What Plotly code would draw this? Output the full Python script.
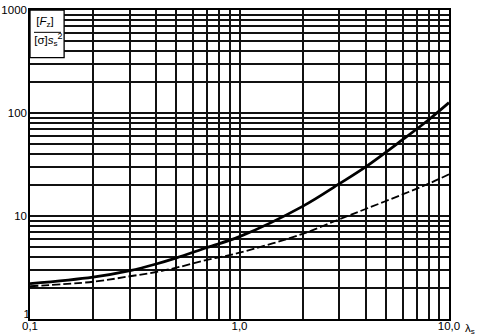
import plotly.graph_objects as go

lam = [0.1, 0.2, 0.3, 0.4, 0.5, 0.7, 1.0, 2.0, 3.0, 4.0, 6.0, 8.0, 10.0]
solid_vals = [2.2, 2.55, 2.95, 3.42, 3.92, 4.95, 6.3, 12.4, 20.6, 30.0, 55.0, 86.0, 126.0]
dashed_vals = [2.08, 2.3, 2.6, 2.86, 3.15, 3.75, 4.4, 6.7, 9.3, 11.7, 16.2, 20.6, 25.4]

x_major = {0.1: "0,1", 1.0: "1,0", 10.0: "10,0"}
y_major = {10: "10", 100: "100", 1000: "1000"}

# label box (upper-left corner) in data coordinates
box_x = [0.1, 0.1455, 0.1455, 0.1, 0.1]
box_y = [1000, 1000, 345, 345, 1000]
frac_x = [0.1045, 0.1406]
frac_y = [607, 607]
label_x = [0.1179, 0.1192, 0.139]
label_y = [764, 500, 547]
label_txt = ["[<i>F</i><sub>z</sub>]", "[σ]<i>s</i><sub>s</sub>", "2"]

def decade_ticks(start_exp, end_exp):
    vals = []
    for e in range(start_exp, end_exp):
        for m in range(1, 10):
            vals.append(round(m * 10 ** e, 6))
    vals.append(round(10 ** end_exp, 6))
    return vals

xt = decade_ticks(-1, 1)
yt = decade_ticks(0, 3)

font = "Liberation Sans"
fs = 11.5

fig = go.Figure()
fig.add_trace(go.Scatter(x=lam, y=solid_vals, mode="lines",
                         line=dict(color="black", width=2.8, shape="spline", smoothing=1.0)))
fig.add_trace(go.Scatter(x=lam, y=dashed_vals, mode="lines",
                         line=dict(color="black", width=1.8, dash="8px,3px", shape="spline", smoothing=1.0)))
fig.add_trace(go.Scatter(x=box_x, y=box_y, mode="lines", fill="toself", fillcolor="white",
                         line=dict(color="black", width=1.3)))
fig.add_trace(go.Scatter(x=frac_x, y=frac_y, mode="lines", line=dict(color="black", width=1)))
fig.add_trace(go.Scatter(x=label_x[:2], y=label_y[:2], mode="text", text=label_txt[:2],
                         textposition="middle center", textfont=dict(size=fs, family=font, color="black")))
fig.add_trace(go.Scatter(x=label_x[2:], y=label_y[2:], mode="text", text=label_txt[2:],
                         textposition="middle center", textfont=dict(size=9, family=font, color="black")))
# lowest y tick label "1", lifted slightly above the corner as in the reference
fig.add_trace(go.Scatter(x=[0.1], y=[1.1], mode="text", text=["1"], textposition="middle left",
                         cliponaxis=False, textfont=dict(size=fs, family=font, color="black")))

fig.update_layout(
    width=480, height=335,
    margin=dict(l=30, r=31, t=10, b=16, autoexpand=False),
    paper_bgcolor="white", plot_bgcolor="white",
    showlegend=False,
    font=dict(family=font, size=fs, color="black"),
)
fig.add_annotation(xref="paper", yref="paper", x=1.0334, y=-0.033, xanchor="left", yanchor="middle",
                   showarrow=False, text="λ<sub>s</sub>", font=dict(size=fs, family=font, color="black"))
fig.update_xaxes(type="log", range=[-1, 1], tickvals=xt,
                 ticktext=[x_major.get(v, "") for v in xt],
                 showgrid=True, gridcolor="#111", gridwidth=1.5,
                 showline=True, linecolor="black", linewidth=1.5, mirror=True,
                 ticks="", ticklen=0, ticklabelstandoff=-5, zeroline=False, tickangle=0,
                 automargin=False)
fig.update_yaxes(type="log", range=[0, 3], tickvals=yt,
                 ticktext=[y_major.get(int(v) if v >= 1 else v, "") for v in yt],
                 showgrid=True, gridcolor="#111", gridwidth=1.5,
                 showline=True, linecolor="black", linewidth=1.5, mirror=True,
                 ticks="", ticklen=0, ticklabelstandoff=-1, zeroline=False, automargin=False)

fig.write_html("out.html")
